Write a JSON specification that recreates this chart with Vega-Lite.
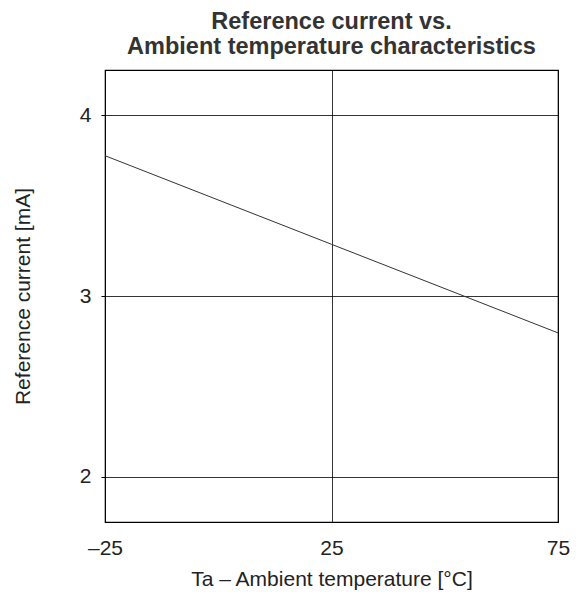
{
  "$schema": "https://vega.github.io/schema/vega-lite/v6.json",
  "width": 453,
  "height": 452,
  "autosize": {"type": "none"},
  "padding": {"left": 105, "top": 70, "right": 22, "bottom": 70},
  "background": "white",
  "title": {
    "text": ["Reference current vs.", "Ambient temperature characteristics"],
    "font": "Liberation Sans",
    "fontSize": 23.5,
    "fontWeight": "bold",
    "color": "#333333",
    "anchor": "middle",
    "offset": 12,
    "lineHeight": 25
  },
  "config": {
    "view": {"stroke": "#000000", "strokeWidth": 1.2},
    "font": "Liberation Sans"
  },
  "data": {
    "values": [
      {"t": -25, "i": 3.776},
      {"t": 25, "i": 3.286},
      {"t": 75, "i": 2.796}
    ]
  },
  "mark": {"type": "line", "color": "#333333", "strokeWidth": 1},
  "encoding": {
    "x": {
      "field": "t",
      "type": "quantitative",
      "scale": {"domain": [-25, 75], "nice": false, "zero": false},
      "axis": {
        "values": [-25, 25, 75],
        "labelExpr": "datum.value < 0 ? '–' + abs(datum.value) : datum.label",
        "labelFlush": false,
        "title": "Ta – Ambient temperature [°C]",
        "titleFont": "Liberation Sans",
        "titleFontSize": 21,
        "titleFontWeight": "normal",
        "titleColor": "#222222",
        "titlePadding": 10,
        "labelFont": "Liberation Sans",
        "labelFontSize": 21,
        "labelColor": "#222222",
        "labelPadding": 15,
        "ticks": false,
        "domain": false,
        "grid": true,
        "gridColor": "#000000",
        "gridOpacity": 1,
        "gridWidth": 0.8
      }
    },
    "y": {
      "field": "i",
      "type": "quantitative",
      "scale": {"domain": [1.75, 4.25], "nice": false, "zero": false},
      "axis": {
        "values": [2, 3, 4],
        "title": "Reference current [mA]",
        "titleFont": "Liberation Sans",
        "titleFontSize": 21,
        "titleFontWeight": "normal",
        "titleColor": "#222222",
        "titlePadding": 46,
        "labelFont": "Liberation Sans",
        "labelFontSize": 21,
        "labelColor": "#222222",
        "labelPadding": 10,
        "ticks": true,
        "tickSize": 4,
        "tickColor": "#000000",
        "domain": false,
        "grid": true,
        "gridColor": "#000000",
        "gridOpacity": 1,
        "gridWidth": 0.8
      }
    }
  }
}
